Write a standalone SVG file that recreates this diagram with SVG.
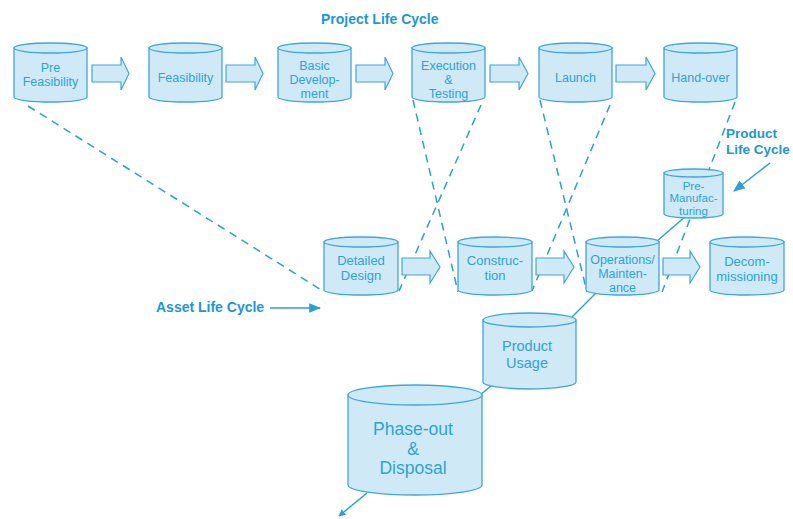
<svg xmlns="http://www.w3.org/2000/svg" width="793" height="519" viewBox="0 0 793 519">
<style>
.cyl{fill:#cfe9f6;stroke:#3fa6dc;stroke-width:1.3}
.blk{fill:#cfe9f6;stroke:#3fa6dc;stroke-width:1.2}
.t{font-family:"Liberation Sans",Arial,sans-serif;fill:#2ea2da;text-anchor:middle}
.s12{font-size:12.5px}.s13{font-size:13px}.s11{font-size:11.5px}.s14{font-size:14.5px}.s17{font-size:17.5px}
.lbl{font-family:"Liberation Sans",Arial,sans-serif;font-weight:bold;font-size:14px;fill:#1d96d5}
.dash{fill:none;stroke:#2a9fd8;stroke-width:1.5;stroke-dasharray:8,6}
.sol{fill:none;stroke:#2a9fd8;stroke-width:1.5}
</style>
<defs>
<marker id="ah" viewBox="0 0 10 10" refX="9" refY="5" markerWidth="7" markerHeight="7" orient="auto" markerUnits="userSpaceOnUse">
<path d="M0,0 L10,5 L0,10 Z" fill="#2a9fd8"/>
</marker>
<marker id="ah2" viewBox="0 0 10 10" refX="9" refY="5" markerWidth="12" markerHeight="12" orient="auto" markerUnits="userSpaceOnUse">
<path d="M0,1 L10,5 L0,9 Z" fill="#2a9fd8"/>
</marker>
</defs>
<rect width="793" height="519" fill="#ffffff"/>

<g id="connectors">
<line class="dash" x1="28" y1="106" x2="323" y2="291"/>
<line class="dash" x1="413" y1="100" x2="458" y2="292"/>
<line class="dash" x1="481" y1="105" x2="399" y2="291"/>
<line class="dash" x1="540" y1="100" x2="587" y2="292"/>
<line class="dash" x1="610" y1="105" x2="532" y2="291"/>
<line class="dash" x1="735" y1="102" x2="662" y2="292"/>
<line class="sol" x1="686" y1="216" x2="657" y2="241"/>
<line class="sol" x1="598" y1="291" x2="572" y2="317"/>
<line class="sol" x1="491" y1="386" x2="480" y2="395"/>
<line class="sol" x1="367" y1="493" x2="339" y2="516" marker-end="url(#ah)"/>
<line class="sol" x1="770" y1="163" x2="734" y2="191" marker-end="url(#ah2)"/>
<line class="sol" x1="270" y1="308" x2="320" y2="308" marker-end="url(#ah2)"/>
<path class="blk" d="M92,65 H121 V57 L129,73.5 L121,90 V82 H92 Z"/>
<path class="blk" d="M226,65 H255 V57 L263,73.5 L255,90 V82 H226 Z"/>
<path class="blk" d="M356,65 H385 V57 L393,73.5 L385,90 V82 H356 Z"/>
<path class="blk" d="M490,65 H519 V57 L528,73.5 L519,90 V82 H490 Z"/>
<path class="blk" d="M616,65 H646 V57 L655,73.5 L646,90 V82 H616 Z"/>
<path class="blk" d="M402,258 H430 V251 L440,267 L430,283 V275 H402 Z"/>
<path class="blk" d="M536,258 H564 V251 L574,267 L564,283 V275 H536 Z"/>
<path class="blk" d="M663,258 H690 V251 L700,267 L690,283 V275 H663 Z"/>
</g>

<text class="lbl" x="321" y="24">Project Life Cycle</text>
<text class="lbl" x="726" y="138" style="font-size:13.5px">Product</text>
<text class="lbl" x="726" y="154" style="font-size:13.5px">Life Cycle</text>
<text class="lbl" x="156" y="312">Asset Life Cycle</text>

<g id="pre-feasibility">
<path class="cyl" d="M14,48 V97 A36.5,5 0 0 0 87,97 V48 Z"/>
<ellipse class="cyl" cx="50.5" cy="48" rx="36.5" ry="5"/>
<text class="t s12" x="50.5" y="72">Pre</text>
<text class="t s12" x="50.5" y="86">Feasibility</text>
</g>
<g id="feasibility">
<path class="cyl" d="M149,48 V97 A36.5,5 0 0 0 222,97 V48 Z"/>
<ellipse class="cyl" cx="185.5" cy="48" rx="36.5" ry="5"/>
<text class="t s12" x="185.5" y="81.5">Feasibility</text>
</g>
<g id="basic-development">
<path class="cyl" d="M278,48 V97 A36.5,5 0 0 0 351,97 V48 Z"/>
<ellipse class="cyl" cx="314.5" cy="48" rx="36.5" ry="5"/>
<text class="t s12" x="314.5" y="69.5">Basic</text>
<text class="t s12" x="314.5" y="83.5">Develop-</text>
<text class="t s12" x="314.5" y="97.5">ment</text>
</g>
<g id="execution-testing">
<path class="cyl" d="M412,48 V97 A36.5,5 0 0 0 485,97 V48 Z"/>
<ellipse class="cyl" cx="448.5" cy="48" rx="36.5" ry="5"/>
<text class="t s12" x="448.5" y="69.5">Execution</text>
<text class="t s12" x="448.5" y="83.5">&amp;</text>
<text class="t s12" x="448.5" y="97.5">Testing</text>
</g>
<g id="launch">
<path class="cyl" d="M539,48 V97 A36.5,5 0 0 0 612,97 V48 Z"/>
<ellipse class="cyl" cx="575.5" cy="48" rx="36.5" ry="5"/>
<text class="t s12" x="575.5" y="81.5">Launch</text>
</g>
<g id="hand-over">
<path class="cyl" d="M664,48 V97 A36.5,5 0 0 0 737,97 V48 Z"/>
<ellipse class="cyl" cx="700.5" cy="48" rx="36.5" ry="5"/>
<text class="t s12" x="700.5" y="81.5">Hand-over</text>
</g>

<g id="detailed-design">
<path class="cyl" d="M324,242 V290 A37,5 0 0 0 398,290 V242 Z"/>
<ellipse class="cyl" cx="361" cy="242" rx="37" ry="5"/>
<text class="t s13" x="361" y="265">Detailed</text>
<text class="t s13" x="361" y="279.5">Design</text>
</g>
<g id="construction">
<path class="cyl" d="M458,242 V290 A37,5 0 0 0 532,290 V242 Z"/>
<ellipse class="cyl" cx="495" cy="242" rx="37" ry="5"/>
<text class="t s13" x="495" y="265">Construc-</text>
<text class="t s13" x="495" y="279.5">tion</text>
</g>
<g id="operations">
<path class="cyl" d="M586,242 V290 A36.5,5 0 0 0 659,290 V242 Z"/>
<ellipse class="cyl" cx="622.5" cy="242" rx="36.5" ry="5"/>
<text class="t s12" x="622.5" y="263.5">Operations/</text>
<text class="t s12" x="622.5" y="277.5">Mainten-</text>
<text class="t s12" x="622.5" y="291.5">ance</text>
</g>
<g id="decommissioning">
<path class="cyl" d="M710,242 V290 A37,5 0 0 0 784,290 V242 Z"/>
<ellipse class="cyl" cx="747" cy="242" rx="37" ry="5"/>
<text class="t s13" x="747" y="266">Decom-</text>
<text class="t s13" x="747" y="280.5">missioning</text>
</g>
<g id="pre-manufacturing">
<path class="cyl" d="M664,173 V214 A29.5,4 0 0 0 723,214 V173 Z"/>
<ellipse class="cyl" cx="693.5" cy="173" rx="29.5" ry="4"/>
<text class="t s11" x="693.5" y="189.5">Pre-</text>
<text class="t s11" x="693.5" y="202.4">Manufac-</text>
<text class="t s11" x="693.5" y="215.3">turing</text>
</g>
<g id="product-usage">
<path class="cyl" d="M483,320 V382 A46.5,7 0 0 0 576,382 V320 Z"/>
<ellipse class="cyl" cx="529.5" cy="320" rx="46.5" ry="7"/>
<text class="t s14" x="527" y="351">Product</text>
<text class="t s14" x="527" y="368">Usage</text>
</g>
<g id="phase-out">
<path class="cyl" d="M348,395 V485 A67,10 0 0 0 482,485 V395 Z"/>
<ellipse class="cyl" cx="415" cy="395" rx="67" ry="10"/>
<text class="t s17" x="413" y="435">Phase-out</text>
<text class="t s17" x="413" y="454.5">&amp;</text>
<text class="t s17" x="413" y="474">Disposal</text>
</g>
</svg>
